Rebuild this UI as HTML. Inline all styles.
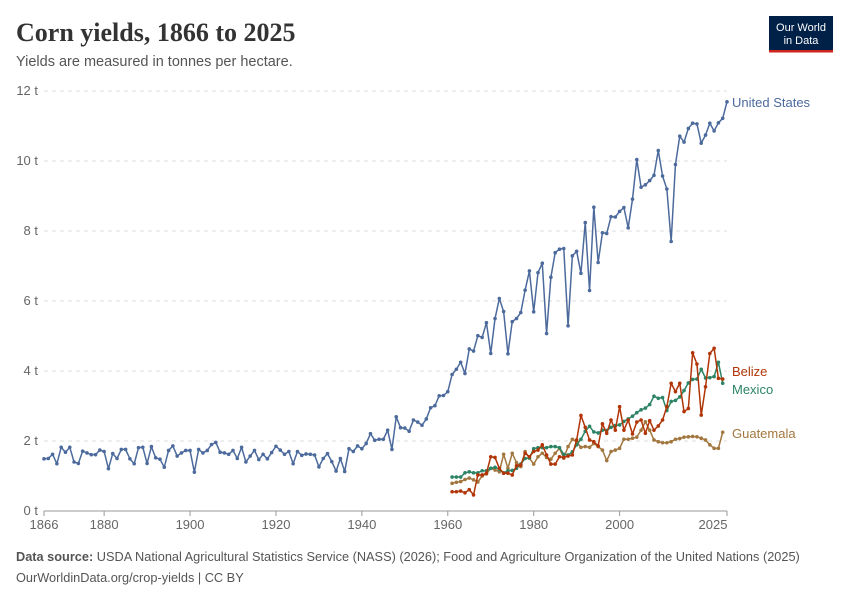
<!DOCTYPE html>
<html><head><meta charset="utf-8">
<style>
body{margin:0;background:#fff;width:850px;height:600px;overflow:hidden;font-family:"Liberation Sans",sans-serif;}
svg text{font-family:"Liberation Sans",sans-serif;}
</style></head>
<body>
<svg id="chart" width="850" height="600" viewBox="0 0 850 600">
<text x="16" y="41" font-size="26" font-weight="bold" fill="#333" style="font-family:'Liberation Serif',serif">Corn yields, 1866 to 2025</text>
<text x="16" y="66" font-size="14.5" fill="#555">Yields are measured in tonnes per hectare.</text>
<g>
<rect x="769" y="16" width="64" height="36" fill="#002147"/>
<rect x="769" y="50" width="64" height="2.5" fill="#ce261e"/>
<text x="801" y="31" font-size="11" fill="#fff" text-anchor="middle">Our World</text>
<text x="801" y="44" font-size="11" fill="#fff" text-anchor="middle">in Data</text>
</g>
<g id="grid"></g><g id="axes"></g><g id="series"></g>
<text x="16" y="561" font-size="12.75" fill="#555"><tspan font-weight="bold">Data source:</tspan> USDA National Agricultural Statistics Service (NASS) (2026); Food and Agriculture Organization of the United Nations (2025)</text>
<text x="16" y="582" font-size="12.75" fill="#555">OurWorldinData.org/crop-yields | CC BY</text>
</svg>
<script>
const usStart = 1866;
const usValues = [1.49,1.50,1.62,1.35,1.82,1.68,1.82,1.40,1.36,1.71,1.66,1.61,1.61,1.74,1.70,1.21,1.64,1.50,1.76,1.76,1.49,1.35,1.81,1.82,1.36,1.84,1.52,1.48,1.25,1.73,1.86,1.57,1.66,1.73,1.73,1.11,1.76,1.66,1.73,1.90,1.96,1.68,1.66,1.62,1.73,1.50,1.82,1.40,1.57,1.73,1.47,1.62,1.49,1.67,1.85,1.74,1.62,1.70,1.35,1.70,1.59,1.63,1.62,1.60,1.26,1.50,1.64,1.41,1.14,1.50,1.13,1.78,1.70,1.86,1.78,1.93,2.21,2.02,2.05,2.05,2.31,1.76,2.69,2.38,2.37,2.28,2.60,2.54,2.45,2.63,2.95,3.01,3.29,3.30,3.41,3.90,4.05,4.25,3.93,4.63,4.57,5.01,4.96,5.38,4.50,5.50,6.07,5.70,4.49,5.41,5.50,5.67,6.31,6.86,5.69,6.81,7.08,5.07,6.68,7.38,7.48,7.50,5.29,7.29,7.42,6.79,8.24,6.30,8.68,7.10,7.95,7.93,8.41,8.40,8.56,8.67,8.09,8.91,10.04,9.25,9.32,9.44,9.59,10.30,9.57,9.20,7.70,9.90,10.71,10.54,10.93,11.08,11.06,10.51,10.74,11.08,10.86,11.09,11.22,11.69];
const faoStart = 1961;
const mexicoValues = [0.97,0.97,0.97,1.09,1.12,1.09,1.09,1.15,1.15,1.22,1.25,1.19,1.09,1.15,1.16,1.22,1.34,1.50,1.52,1.78,1.81,1.81,1.81,1.84,1.84,1.81,1.62,1.60,1.69,1.89,2.05,2.28,2.42,2.26,2.23,2.31,2.30,2.39,2.44,2.46,2.56,2.63,2.71,2.81,2.89,2.94,3.04,3.28,3.22,3.24,2.87,3.13,3.16,3.26,3.44,3.66,3.76,3.77,4.05,3.80,3.81,3.84,4.25,3.65];
const belizeValues = [0.55,0.55,0.57,0.52,0.61,0.46,1.03,1.03,1.08,1.55,1.53,1.22,1.08,1.08,1.03,1.29,1.31,1.65,1.55,1.70,1.74,1.89,1.60,1.34,1.34,1.55,1.53,1.57,1.60,2.03,2.73,2.39,2.03,1.98,1.86,2.49,2.22,2.60,2.31,2.98,2.31,2.60,2.20,2.54,2.60,2.22,2.58,2.31,2.43,2.60,2.98,3.65,3.41,3.65,2.84,2.93,4.52,4.20,2.74,3.55,4.50,4.65,3.79,3.77];
const guatemalaValues = [0.79,0.82,0.84,0.90,0.94,0.89,0.83,1.00,1.06,1.22,1.17,1.12,1.62,1.22,1.65,1.38,1.27,1.70,1.51,1.34,1.55,1.65,1.53,1.48,1.65,1.79,1.51,1.84,2.05,1.98,1.82,1.84,1.82,1.93,1.84,1.74,1.44,1.70,1.74,1.79,2.05,2.05,2.08,2.11,2.31,2.55,2.31,2.03,1.98,1.95,1.95,1.98,2.05,2.07,2.11,2.12,2.13,2.12,2.08,2.03,1.89,1.79,1.79,2.25];
const yTicks = [0,2,4,6,8,10,12];
const xTicks = [1866,1880,1900,1920,1940,1960,1980,2000,2025];

const NS='http://www.w3.org/2000/svg';
const X0=44, X1=727, Y0=511, Y1=91;
const xs = yr => X0 + (yr-1866)*(X1-X0)/(2025-1866);
const ys = v => Y0 - v*(Y0-Y1)/12;
function mk(tag, attrs, parent){const e=document.createElementNS(NS,tag);for(const k in attrs)e.setAttribute(k,attrs[k]);parent.appendChild(e);return e;}
const grid=document.getElementById('grid'), axes=document.getElementById('axes'), series=document.getElementById('series');
yTicks.forEach(t=>{
  if(t>0){const l=mk('line',{x1:X0,x2:X1,y1:ys(t),y2:ys(t),stroke:'#ddd','stroke-dasharray':'4,4'},grid);
  
  }
  const tx=mk('text',{x:38,y:ys(t)+4,'font-size':13,fill:'#666','text-anchor':'end'},axes);
  tx.textContent=t+' t';
  
  
});
const ax=mk('line',{x1:X0,x2:X1,y1:Y0,y2:Y0,stroke:'#999'},axes);


xTicks.forEach(t=>{
  const x=xs(t);
  mk('line',{x1:x,x2:x,y1:Y0,y2:Y0+5,stroke:'#999'},axes);
  let lx=x; if(t===2025) lx=x-14;
  const tx=mk('text',{x:lx,y:529,'font-size':13,fill:'#666','text-anchor':'middle'},axes);
  tx.textContent=t;
  
  
});
function drawSeries(name,start,vals,color,label,ly){
  const g=mk('g',{},series);
  
  
  const pts=vals.map((v,i)=>[xs(start+i),ys(v)]);
  mk('polyline',{points:pts.map(p=>p.join(',')).join(' '),fill:'none',stroke:color,'stroke-width':1.5,'stroke-linejoin':'round'},g);
  pts.forEach(p=>mk('circle',{cx:p[0],cy:p[1],r:1.8,fill:color},g));
  const t=mk('text',{x:732,y:ly,'font-size':13,fill:color},g);
  t.textContent=label;
  
  
}
drawSeries('united-states',usStart,usValues,'#4c6a9c','United States',107);
drawSeries('guatemala',faoStart,guatemalaValues,'#a2773f','Guatemala',438);
drawSeries('mexico',faoStart,mexicoValues,'#2c8465','Mexico',394);
drawSeries('belize',faoStart,belizeValues,'#b13507','Belize',376);
</script>
</body></html>
